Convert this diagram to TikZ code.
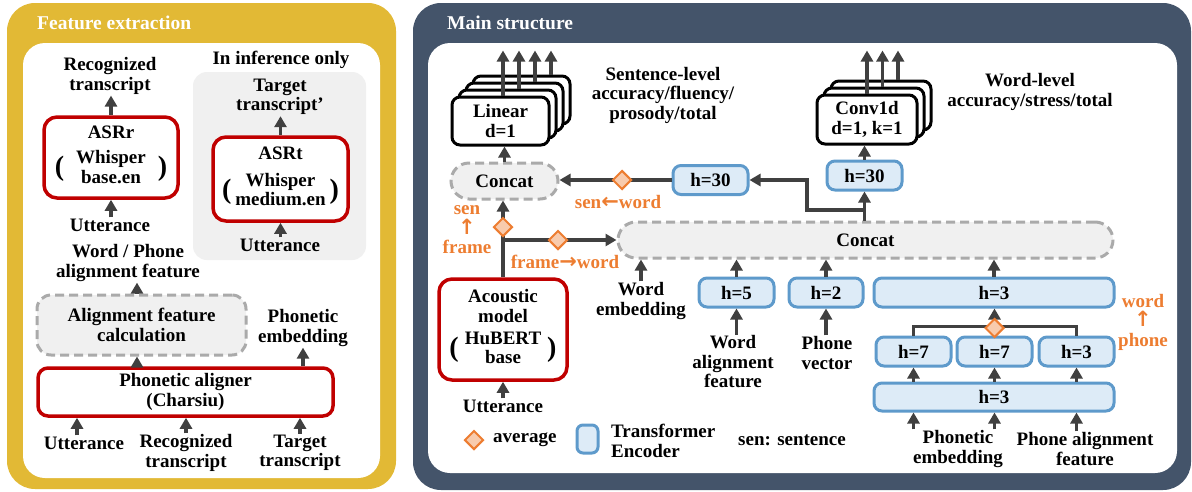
\documentclass[tikz,border=0pt]{standalone}
\usepackage{fontspec}
\setmainfont{Liberation Serif}
\newfontfamily\arrowfont{DejaVu Sans}
\usetikzlibrary{arrows.meta,positioning,shapes.geometric}

\definecolor{fegold}{HTML}{E2B935}
\definecolor{msslate}{HTML}{44546A}
\definecolor{asrred}{HTML}{C00000}
\definecolor{tfline}{HTML}{5E9ACB}
\definecolor{tffill}{HTML}{DDEBF7}
\definecolor{avgline}{HTML}{ED7D31}
\definecolor{avgfill}{HTML}{F8CBAD}
\definecolor{arrgray}{HTML}{404040}
\definecolor{dashgray}{HTML}{AAAAAA}
\definecolor{boxgray}{HTML}{F0F0F0}

\newcommand{\bigpar}[1]{\raisebox{-2pt}{\fontsize{28}{28}\selectfont #1}}
\newcommand{\arw}[1]{{\arrowfont\bfseries\fontsize{21}{19.5}\selectfont #1}}

\tikzset{
  lbl/.style={align=center, inner sep=1pt, font=\bfseries\fontsize{19}{19.5}\selectfont},
  paneltitle/.style={anchor=west, inner sep=0pt, text=white, font=\bfseries\fontsize{19.5}{20}\selectfont},
  arr/.style={draw=arrgray, line width=3.2pt, -{Triangle[length=11pt,width=12pt]}},
  link/.style={draw=arrgray, line width=3.2pt},
  asrbox/.style={lbl, draw=asrred, line width=3.5pt, rounded corners=13pt, fill=white},
  tfbox/.style={lbl, draw=tfline, fill=tffill, line width=3pt, rounded corners=8pt, minimum width=75pt, minimum height=29pt},
  catbox/.style={lbl, draw=dashgray, fill=boxgray, line width=3pt, dash pattern=on 9pt off 5pt, rounded corners=18pt, minimum height=36pt},
  stackbox/.style={lbl, draw=black, fill=white, line width=3pt, rounded corners=8pt},
  avg/.style={diamond, draw=avgline, fill=avgfill, line width=2pt, minimum size=19pt, inner sep=0pt},
  avglbl/.style={lbl, text=avgline},
}

\begin{document}
\begin{tikzpicture}[x=1pt, y=-1pt]
  \useasboundingbox (0,0) rectangle (1192,491);

  % Panels
  \fill[fegold, rounded corners=28pt] (7,3) rectangle (396,489);
  \fill[white, rounded corners=22pt] (23,43) rectangle (380,478);
  \fill[msslate, rounded corners=28pt] (413,3) rectangle (1191,490);
  \fill[white, rounded corners=22pt] (428,43) rectangle (1177,473);
  \node[paneltitle] (fetitle) at (37,23) {Feature extraction};
  \node[paneltitle] (mstitle) at (447,23) {Main structure};

  % Feature extraction
  \fill[boxgray, rounded corners=14pt] (193,72) rectangle (366,260);
  \node[lbl] (infonly) at (281,60) {In inference only};
  \node[lbl] (rectxt) at (110,76) {Recognized\\transcript};
  \node[asrbox, minimum width=134pt, minimum height=81pt] (asrr) at (111,157.5)
    {ASRr\\[10pt]\bigpar{(}\hspace{12pt}\begin{tabular}{@{}c@{}}Whisper\\base.en\end{tabular}\hspace{12pt}\bigpar{)}};
  \node[lbl] (utt1) at (110,225) {Utterance};
  \node[lbl] (tgtp) at (280,97) {Target\\transcript’};
  \node[asrbox, minimum width=135pt, minimum height=84pt] (asrt) at (280.5,179)
    {ASRt\\[12pt]\bigpar{(}\hspace{4pt}\begin{tabular}{@{}c@{}}Whisper\\medium.en\end{tabular}\hspace{4pt}\bigpar{)}};
  \node[lbl] (utt2) at (280,245) {Utterance};
  \node[lbl] (wpfeat) at (128,263) {Word / Phone\\alignment feature};
  \node[catbox, minimum width=209pt, minimum height=60pt, rounded corners=14pt] (alcalc) at (141.5,325) {Alignment feature\\calculation};
  \node[lbl] (phemb1) at (303,328) {Phonetic\\embedding};
  \node[asrbox, minimum width=295pt, minimum height=48pt, rounded corners=10pt] (aligner) at (185.5,392) {Phonetic aligner\\(Charsiu)};
  \node[lbl] (utt3) at (84,443) {Utterance};
  \node[lbl] (rectxt2) at (186,453) {Recognized\\transcript};
  \node[lbl] (tgt) at (300,453) {Target\\transcript};

  \draw[arr] (asrr.north) -- (asrr.north |- rectxt.south);
  \draw[arr] (utt1.north -| asrr) -- (asrr.south);
  \draw[arr] (asrt.north) -- (asrt.north |- tgtp.south);
  \draw[arr] (utt2.north -| asrt) -- (asrt.south);
  \draw[arr] ([xshift=-4.5pt]alcalc.north) -- ([xshift=-4.5pt]alcalc.north |- wpfeat.south);
  \draw[arr] ([xshift=-4.5pt]alcalc.south |- aligner.north) -- ([xshift=-4.5pt]alcalc.south);
  \draw[arr] (aligner.north -| phemb1) -- (phemb1.south);
  \draw[arr] ([xshift=-7pt]utt3.north) -- ([xshift=-7pt]utt3.north |- aligner.south);
  \draw[arr] (rectxt2.north) -- (rectxt2.north |- aligner.south);
  \draw[arr] (tgt.north) -- (tgt.north |- aligner.south);

  % Main structure: output heads
  \foreach \k in {3,2,1}
    \node[stackbox, minimum width=97pt, minimum height=48pt] (lin\k) at (500.5+7*\k,121-7*\k) {};
  \node[stackbox, minimum width=97pt, minimum height=48pt] (lin0) at (500.5,121) {Linear\\d=1};
  \foreach \k in {0,...,3}
    \draw[arr] ([xshift=(9*\k+2.5)*1pt]lin\k.north) -- ++(0,-45+7*\k);
  \foreach \k in {2,1}
    \node[stackbox, minimum width=100pt, minimum height=49pt] (cnv\k) at (867+7*\k,119.5-7*\k) {};
  \node[stackbox, minimum width=100pt, minimum height=49pt] (cnv0) at (867,119.5) {Conv1d\\d=1, k=1};
  \foreach \k in {0,1,2}
    \draw[arr] ([xshift=(8.5*\k)*1pt]cnv\k.north) -- ++(0,-43+7*\k);
  \node[lbl] (senlvl) at (663,95) {Sentence-level\\accuracy/fluency/\\prosody/total};
  \node[lbl] (wordlvl) at (1030,92) {Word-level\\accuracy/stress/total};

  % Main structure: encoders
  \node[catbox, minimum width=107pt] (sencat) at (504.5,181) {Concat};
  \node[tfbox] (hsen) at (710.5,180) {h=30};
  \node[tfbox] (hword) at (864.5,175.5) {h=30};
  \node[catbox, minimum width=495pt] (wordcat) at (865.5,240) {Concat};
  \node[asrbox, minimum width=128pt, minimum height=101pt] (hubert) at (503,329.5)
    {Acoustic\\model\\[7pt]\bigpar{(}\hspace{6pt}\begin{tabular}{@{}c@{}}HuBERT\\base\end{tabular}\hspace{6pt}\bigpar{)}};
  \node[lbl] (utt4) at (503,406) {Utterance};
  \node[lbl] (wemb) at (641,301) {Word\\embedding};
  \node[tfbox] (h5) at (736.5,292.5) {h=5};
  \node[lbl] (walign) at (733,362) {Word\\alignment\\feature};
  \node[tfbox, minimum width=74pt] (h2) at (826,292.5) {h=2};
  \node[lbl] (phvec) at (827,353) {Phone\\vector};
  \node[tfbox, minimum width=240pt] (h3top) at (994,292.5) {h=3};
  \node[tfbox] (h7a) at (913.5,351.5) {h=7};
  \node[tfbox] (h7b) at (994.5,351.5) {h=7};
  \node[tfbox] (h3s) at (1076.5,351.5) {h=3};
  \node[tfbox, minimum width=240pt, minimum height=28pt] (h3bot) at (994,397) {h=3};
  \node[lbl] (phemb2) at (958,449) {Phonetic\\embedding};
  \node[lbl] (phalign) at (1085,449) {Phone alignment\\feature};

  \coordinate (wbend) at (807,210);
  \draw[arr] (sencat.north) -- (sencat.north |- lin0.south);
  \draw[arr] (hsen.west) -- (hsen.west -| sencat.east);
  \draw[arr] (wbend -| hword) -- (wbend) |- (hsen.east);
  \draw[arr] (wordcat.north -| hword) -- (hword.south);
  \draw[arr] (hword.north) -- (hword.north |- cnv0.south);
  \draw[arr] (hubert.north) -- (hubert.north |- sencat.south);
  \draw[arr] (hubert.north |- wordcat.west) -- (wordcat.west);
  \draw[arr] (utt4.north) -- (utt4.north |- hubert.south);
  \draw[arr] (wemb.north) -- (wemb.north |- wordcat.south);
  \draw[arr] (h5.north) -- (h5.north |- wordcat.south);
  \draw[arr] (walign.north -| h5) -- (h5.south);
  \draw[arr] (h2.north) -- (h2.north |- wordcat.south);
  \draw[arr] (phvec.north -| h2) -- (h2.south);
  \draw[arr] (h3top.north) -- (h3top.north |- wordcat.south);
  \draw[link] (h7a.north) -- ++(0,-9) -| (h3s.north);
  \draw[arr] (h7b.north) -- (h7b.north |- h3top.south);
  \foreach \b in {h7a,h7b,h3s}
    \draw[arr] (h3bot.north -| \b) -- (\b.south);
  \draw[arr] (phemb2.north -| h7a) -- (h3bot.south -| h7a);
  \draw[arr] (phemb2.north -| h7b) -- (h3bot.south -| h7b);
  \draw[arr] (phalign.north -| h3s) -- (h3bot.south -| h3s);

  % Averaging
  \node[avg] (avgsen) at (622,180) {};
  \node[avg] (avgframe) at (503,227) {};
  \node[avg] (avgfw) at (558,240) {};
  \node[avg] (avgph) at (994.5,328) {};
  \node[avglbl] (senword) at (618,202) {sen\arw{←}word};
  \node[avglbl] (senframe) at (467,230) {sen\\\arw{↑}\\frame};
  \node[avglbl] (frameword) at (565,262) {frame\arw{→}word};
  \node[avglbl] (wordphone) at (1143,322) {word\\\arw{↑}\\phone};

  % Legend
  \node[avg] (legavg) at (474,440) {};
  \node[lbl, anchor=west] (legavgtxt) at (492,440) {average};
  \node[tfbox, minimum width=21pt, minimum height=28pt, rounded corners=6pt] (legtf) at (587.5,439) {};
  \node[lbl, anchor=west, align=left] (legtftxt) at (610,441) {Transformer\\Encoder};
  \node[lbl, anchor=west] (legsen) at (737,440) {sen: sentence};
\end{tikzpicture}
\end{document}
